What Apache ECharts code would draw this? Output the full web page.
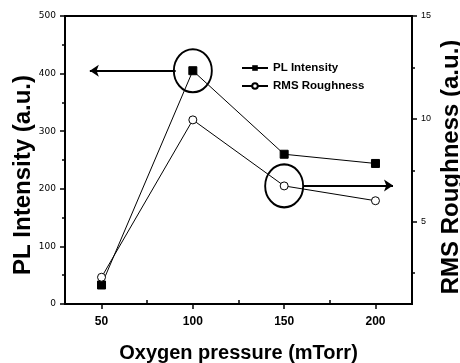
<!DOCTYPE html>
<html>
<head>
<meta charset="utf-8">
<script src="https://cdn.jsdelivr.net/npm/echarts@6/dist/echarts.min.js"></script>
<style>
html,body{margin:0;padding:0;background:#fff;}
#chart{width:460px;height:363px;}
</style>
</head>
<body>
<div id="chart"></div>
<script>
// ---- data ----
var pressures = [50, 100, 150, 200];           // Oxygen pressure (mTorr)
var plIntensity = [33, 405, 260, 244];         // PL Intensity (a.u.), left axis
var rmsRoughness = [2.3, 9.95, 6.74, 6.02];    // RMS Roughness (a.u.), right axis

var xMajorTicks = [50, 100, 150, 200];
var xMinorTicks = [75, 125, 175];
var rightMajorTicks = [5, 10, 15];
var rightMinorTicks = [2.5, 7.5, 12.5];

// annotations (data coordinates)
var plHighlight = [100, 405];
var plArrow = [[90.6, 405], [43.6, 405]];
var rmsHighlight = [150, 6.74];
var rmsArrow = [[160.5, 6.76], [209.6, 6.76]];

var chart = echarts.init(document.getElementById('chart'), null, {renderer: 'canvas'});

var black = '#000';
var tickLabelFont = {color: black, fontFamily: 'DejaVu Sans', fontSize: 9};

var option = {
  animation: false,
  backgroundColor: '#fff',
  grid: {left: 65, right: 48, top: 16, bottom: 59, containLabel: false, outerBoundsMode: 'none',
         show: true, borderColor: black, borderWidth: 2, backgroundColor: 'transparent'},
  legend: {
    orient: 'vertical', left: 236, top: 57, itemWidth: 26, itemHeight: 7, itemGap: 6,
    textStyle: {color: black, fontFamily: 'Liberation Sans', fontSize: 11.5, fontWeight: 'bold'},
    data: ['PL Intensity', 'RMS Roughness']
  },
  xAxis: [{
    type: 'value', min: 30, max: 220, position: 'bottom',
    name: 'Oxygen pressure (mTorr)', nameLocation: 'middle', nameGap: 39, nameMoveOverlap: false,
    nameTextStyle: {color: black, fontFamily: 'Liberation Sans', fontSize: 20, fontWeight: 'bold'},
    axisLine: {lineStyle: {color: black, width: 2}},
    axisTick: {show: true, inside: false, length: 5, customValues: xMajorTicks, lineStyle: {color: black, width: 1.5}},
    axisLabel: {customValues: xMajorTicks, margin: 12, color: black, fontFamily: 'Liberation Sans', fontSize: 12, fontWeight: 'bold'},
    splitLine: {show: false}
  }, {
    type: 'value', min: 30, max: 220, position: 'bottom',
    axisLine: {show: false},
    axisTick: {show: true, inside: true, length: 4, customValues: xMinorTicks, lineStyle: {color: black, width: 1.5}},
    axisLabel: {show: false},
    splitLine: {show: false}
  }],
  yAxis: [{
    type: 'value', min: 0, max: 500, interval: 100, position: 'left',
    name: 'PL Intensity (a.u.)', nameLocation: 'middle', nameGap: 30, nameRotate: 90, nameMoveOverlap: false,
    nameTextStyle: {color: black, fontFamily: 'Liberation Sans', fontSize: 24, fontWeight: 'bold', padding: [0, 30, 0, 0]},
    axisLine: {show: true, lineStyle: {color: black, width: 2}},
    axisTick: {show: true, inside: false, length: 5, lineStyle: {color: black, width: 1.5}},
    minorTick: {show: true, splitNumber: 2, length: 3, lineStyle: {color: black, width: 1.5}},
    axisLabel: Object.assign({margin: 9}, tickLabelFont),
    splitLine: {show: false}
  }, {
    type: 'value', min: 1, max: 15, position: 'right',
    name: 'RMS Roughness (a.u.)', nameLocation: 'middle', nameGap: 27, nameRotate: 90, nameMoveOverlap: false,
    nameTextStyle: {color: black, fontFamily: 'Liberation Sans', fontSize: 24, fontWeight: 'bold', padding: [0, 14, 0, 0]},
    axisLine: {show: true, lineStyle: {color: black, width: 2}},
    axisTick: {show: true, inside: false, length: 5, customValues: rightMajorTicks, lineStyle: {color: black, width: 1.5}},
    axisLabel: {customValues: rightMajorTicks, margin: 9, color: black, fontFamily: 'Liberation Sans', fontSize: 9},
    splitLine: {show: false}
  }, {
    type: 'value', min: 1, max: 15, position: 'right',
    axisLine: {show: false},
    axisTick: {show: true, inside: false, length: 3, customValues: rightMinorTicks, lineStyle: {color: black, width: 1.5}},
    axisLabel: {show: false},
    splitLine: {show: false}
  }],
  series: [{
    name: 'PL Intensity', type: 'line', xAxisIndex: 0, yAxisIndex: 0,
    data: pressures.map(function (p, i) { return [p, plIntensity[i]]; }),
    symbol: 'rect', symbolSize: 8,
    itemStyle: {color: black, borderColor: black},
    lineStyle: {color: black, width: 1},
    markPoint: {
      silent: true, symbol: 'circle', symbolSize: [38, 43],
      itemStyle: {color: 'rgba(0,0,0,0)', borderColor: black, borderWidth: 2},
      label: {show: false},
      data: [{coord: plHighlight}]
    },
    markLine: {
      silent: true, symbol: ['none', 'arrow'], symbolSize: 9,
      lineStyle: {color: black, width: 2, type: 'solid'},
      label: {show: false},
      data: [[{coord: plArrow[0]}, {coord: plArrow[1]}]]
    }
  }, {
    name: 'RMS Roughness', type: 'line', xAxisIndex: 0, yAxisIndex: 1,
    data: pressures.map(function (p, i) { return [p, rmsRoughness[i]]; }),
    symbol: 'circle', symbolSize: 8,
    itemStyle: {color: '#fff', borderColor: black, borderWidth: 1},
    lineStyle: {color: black, width: 1},
    markPoint: {
      silent: true, symbol: 'circle', symbolSize: [38, 43],
      itemStyle: {color: 'rgba(0,0,0,0)', borderColor: black, borderWidth: 2},
      label: {show: false},
      data: [{coord: rmsHighlight}]
    },
    markLine: {
      silent: true, symbol: ['none', 'arrow'], symbolSize: 9,
      lineStyle: {color: black, width: 2, type: 'solid'},
      label: {show: false},
      data: [[{coord: rmsArrow[0]}, {coord: rmsArrow[1]}]]
    }
  }]
};
chart.setOption(option);
</script>
</body>
</html>
